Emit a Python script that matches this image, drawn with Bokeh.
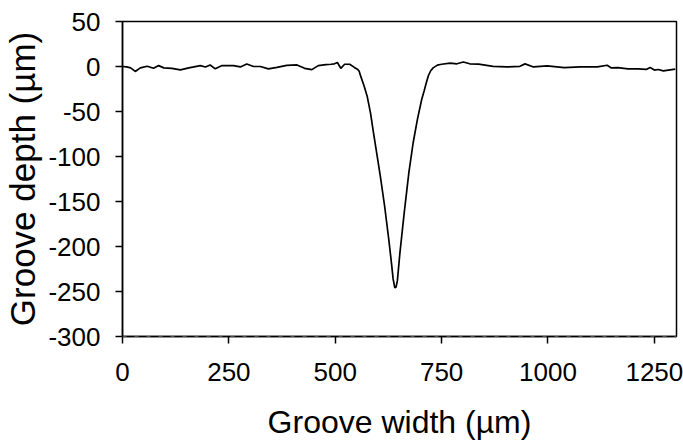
from bokeh.plotting import figure
from bokeh.models import Range1d, FixedTicker, Span, CustomJSTickFormatter
from bokeh.embed import file_html
from bokeh.resources import INLINE

# Groove profile: width (µm) vs depth (µm)
width_um = [0, 10, 19, 30, 42, 58, 73, 85, 97, 116, 136, 156, 183, 195, 206, 218,
            234, 261, 277, 292, 308, 324, 343, 363, 386, 410, 428, 445, 460, 478,
            490, 498, 505, 513, 522, 534, 545, 552,
            556, 560, 568, 575, 583, 590, 598, 606, 616, 626, 632, 636, 640, 643,
            646, 652, 662, 673, 683, 693, 703, 709, 714, 719, 724, 730, 740, 750,
            770, 786, 801, 816, 837, 871, 903, 934, 946, 966, 998, 1038, 1076,
            1116, 1139, 1149, 1164, 1188, 1212, 1231, 1240, 1250, 1259, 1271, 1299]
depth_um = [0, -0.5, -1.5, -5.5, -1.5, 0.3, -2, 1, -1.5, -2, -3.8, -1.5, 1, -0.5, 1.7, -2.6,
            1, 1, -0.5, 2.7, 0, 0, -2.6, -1, 1.3, 1.7, -2, -3.5, 1, 2,
            2.5, 3, 4.5, -2, 2.5, 2.5, -1, -3,
            -5, -11, -22, -33, -52, -74, -98, -122, -155, -193, -218, -236, -246, -245,
            -238, -207, -163, -118, -85, -59, -37, -27, -18, -10, -5, -1.5, 1.5, 2.5,
            3.7, 3, 5, 3, 2.6, 0.2, -0.5, 0.2, 2.9, -0.5, 0.6, -1.2, -0.5,
            -0.5, 1.4, -1.6, -1.2, -2.6, -2.6, -3.3, -1.2, -4, -3.3, -4.8, -2.9]

x_ticks = [0, 250, 500, 750, 1000, 1250]
y_ticks = [50, 0, -50, -100, -150, -200, -250, -300]

FONT = "Liberation Sans"

p = figure(frame_width=554, frame_height=315,
           min_border_left=114, min_border_top=21, min_border_right=7, min_border_bottom=104,
           x_range=Range1d(0, 1302), y_range=Range1d(-300, 50),
           output_backend="svg", toolbar_location=None,
           background_fill_color="white", border_fill_color="white")

p.line(width_um, depth_um, line_color="black", line_width=1.7)

p.grid.visible = False
p.outline_line_color = "black"
p.outline_line_width = 1.5

p.xaxis.ticker = FixedTicker(ticks=x_ticks)
p.yaxis.ticker = FixedTicker(ticks=y_ticks)
fmt_code = "return String(Math.round(tick));"
p.xaxis.formatter = CustomJSTickFormatter(code=fmt_code)
p.yaxis.formatter = CustomJSTickFormatter(code=fmt_code)
p.xaxis.axis_label = "Groove width (µm)"
p.yaxis.axis_label = "Groove depth (µm)"

for ax in (p.xaxis, p.yaxis):
    ax.axis_line_color = "black"
    ax.axis_line_width = 1.5
    ax.major_tick_line_color = "black"
    ax.major_tick_line_width = 1.5
    ax.major_tick_out = 7
    ax.major_tick_in = 0
    ax.minor_tick_line_color = None
    ax.major_label_text_font = FONT
    ax.major_label_text_font_size = "26px"
    ax.major_label_text_color = "black"
    ax.axis_label_text_font = FONT
    ax.axis_label_text_font_style = "normal"
    ax.axis_label_text_color = "black"

p.xaxis.major_label_standoff = 19
p.xaxis.axis_label_text_font_size = "32px"
p.xaxis.axis_label_standoff = 20
p.yaxis.major_label_standoff = 15
p.yaxis.axis_label_text_font_size = "35px"
p.yaxis.axis_label_standoff = 3

# dashed look of the bottom axis line
p.add_layout(Span(location=-300, dimension="width", line_color="#9a9a9a",
                  line_dash="4 8", line_width=1))

open("out.html", "w").write(file_html(p, INLINE))
